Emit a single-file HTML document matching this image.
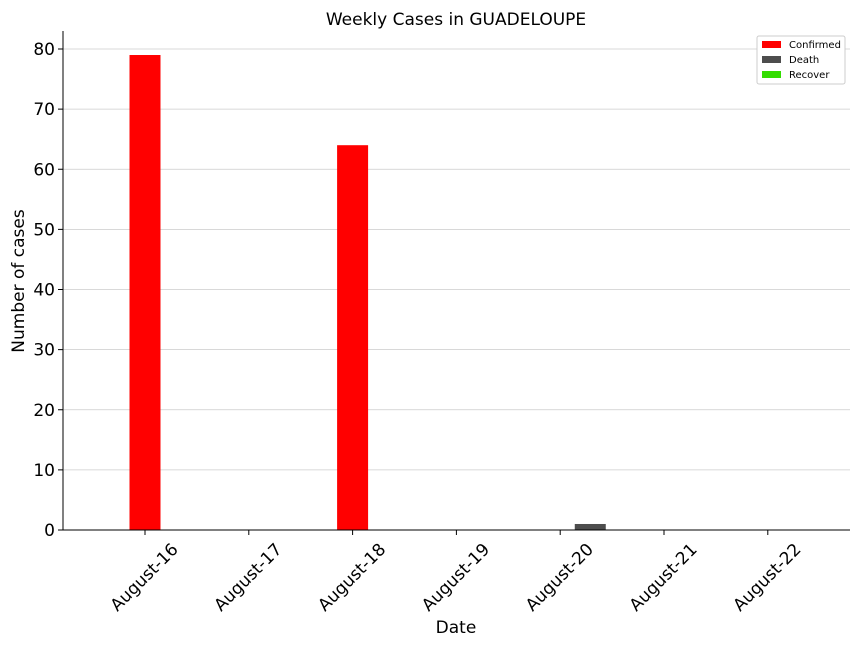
<!DOCTYPE html>
<html><head><meta charset="utf-8"><style>
body{margin:0;background:#fff;}
svg text{font-family:"DejaVu Sans","Liberation Sans",sans-serif;}
</style></head><body>
<svg id="chart" width="864" height="648" xmlns="http://www.w3.org/2000/svg">
<rect width="864" height="648" fill="#fff"/>
<text x="456" y="25" font-size="17" text-anchor="middle">Weekly Cases in GUADELOUPE</text>
<g id="grid"></g><g id="bars"></g><g id="axes"></g>
<text x="456" y="633" font-size="17" text-anchor="middle">Date</text>
<text x="24" y="281" font-size="17" text-anchor="middle" transform="rotate(-90 24 281)">Number of cases</text>
<g>
<rect x="757" y="36" width="88" height="48" fill="#fff" stroke="#ccc" rx="2"/>
<rect x="762" y="41" width="19" height="7" fill="#ff0000"/><text x="789" y="48" font-size="10">Confirmed</text>
<rect x="762" y="56" width="19" height="7" fill="#4d4d4d"/><text x="789" y="63" font-size="10">Death</text>
<rect x="762" y="71" width="19" height="7" fill="#33dd00"/><text x="789" y="78" font-size="10">Recover</text>
</g>
</svg>
<script>
const categories=["August-16","August-17","August-18","August-19","August-20","August-21","August-22"];
const confirmed=[79,0,64,0,0,0,0];
const deaths=[0,0,0,0,1,0,0];
const recovered=[0,0,0,0,0,0,0];
const yTicks=[0,10,20,30,40,50,60,70,80];
const NS="http://www.w3.org/2000/svg";
const L=63,R=850,T=31,B=530;
const y=v=>B-v*(481/80);
const x=i=>145+i*103.8;
const bw=31;
function mk(tag,attrs,parent){const e=document.createElementNS(NS,tag);for(const k in attrs)e.setAttribute(k,attrs[k]);parent.appendChild(e);return e;}
const grid=document.getElementById('grid'),bars=document.getElementById('bars'),axes=document.getElementById('axes');
yTicks.forEach(t=>{
 const g=mk('line',{x1:L,x2:R,y1:y(t),y2:y(t),stroke:'#cccccc','stroke-width':0.8},grid);
 
 
 mk('line',{x1:L-5,x2:L,y1:y(t),y2:y(t),stroke:'#000'},axes);
 const tx=mk('text',{x:L-8,y:y(t)+6,'font-size':17,'text-anchor':'end'},axes);
 
 
 tx.textContent=t;
});
const series=[[confirmed,'#ff0000',0],[deaths,'#4d4d4d',1],[recovered,'#33dd00',2]];
series.forEach(([arr,c,k])=>arr.forEach((v,i)=>{
 if(v<=0)return;
 const r=mk('rect',{x:x(i)-bw/2+k*bw*0.97,y:y(v),width:bw,height:B-y(v),fill:c},bars);
 
 
}));
categories.forEach((c,i)=>{
 mk('line',{x1:x(i),x2:x(i),y1:B,y2:B+5,stroke:'#000'},axes);
 const cx=x(i)-1, cy=577;
 const tx=mk('text',{x:cx,y:cy+6,'font-size':17,'text-anchor':'middle',transform:`rotate(-45 ${cx} ${cy})`},axes);
 
 
 tx.textContent=c;
});
mk('line',{x1:L,x2:L,y1:T,y2:B,stroke:'#000'},axes);
mk('line',{x1:L,x2:R,y1:B,y2:B,stroke:'#000'},axes);
</script>
</body></html>
